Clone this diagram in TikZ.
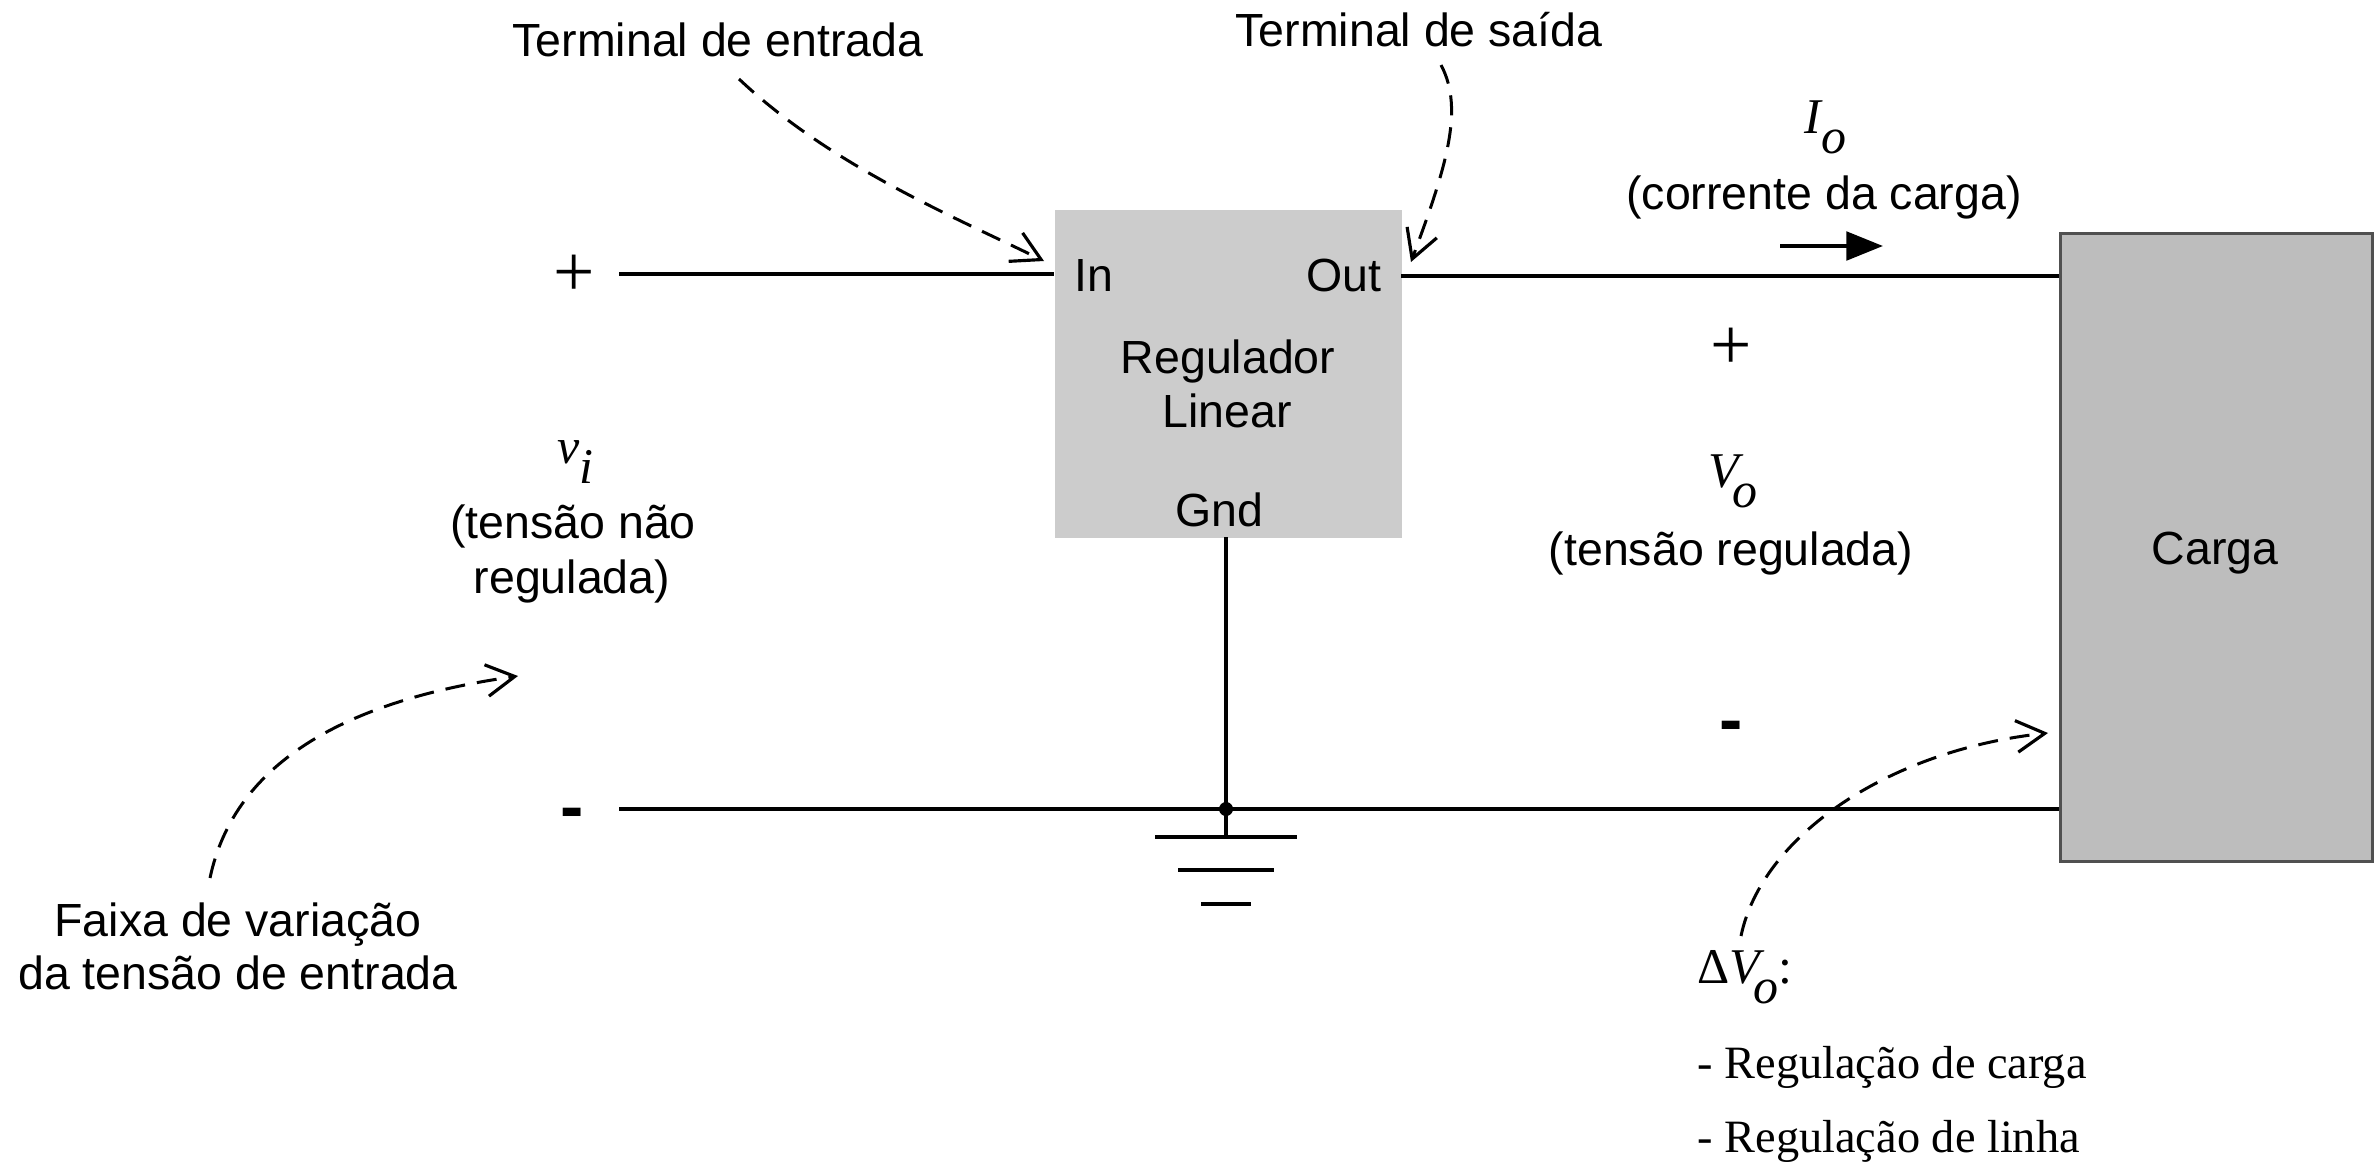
\documentclass[tikz,border=0pt]{standalone}
\usepackage{fontspec}
\setmainfont{Liberation Sans}
\newfontfamily\serifA{Liberation Serif}
\usetikzlibrary{arrows.meta}
\newcommand{\lowr}[1]{\raisebox{-6pt}{#1}}
\tikzset{
  lbl/.style={font=\fontsize{13.95}{15.9}\selectfont,inner sep=0pt,anchor=base,align=center},
  lblL/.style={lbl,anchor=base west},
  mathlbl/.style={font=\fontsize{15}{16}\selectfont\serifA,inner sep=0pt,anchor=base west},
  textlbl/.style={font=\fontsize{13.9}{16}\selectfont\serifA,inner sep=0pt,anchor=base west},
  plusmark/.style={font=\fontsize{22}{22}\selectfont\serifA,inner sep=0pt,anchor=center},
  minusmark/.style={font=\fontsize{21}{21}\selectfont\bfseries,inner sep=0pt,anchor=center},
  wire/.style={line width=1.3pt,black},
  thinwire/.style={line width=0.95pt,black},
  gbar/.style={line width=1.25pt,black},
  callout/.style={line width=0.9pt,black,dash pattern=on 6pt off 3.6pt,-{Straight Barb[length=8.5pt,width=9.5pt,line width=0.95pt]}},
  regbox/.style={fill=boxgray,draw=none,inner sep=0pt,minimum width=104.1pt,minimum height=98.6pt,anchor=north west},
  loadbox/.style={fill=loadgray,draw=edgegray,line width=0.9pt,inner sep=0pt,minimum width=93.5pt,minimum height=188.5pt,anchor=north west},
}
\definecolor{boxgray}{HTML}{CCCCCC}
\definecolor{loadgray}{HTML}{BDBDBD}
\definecolor{edgegray}{HTML}{505050}
\begin{document}
\begin{tikzpicture}[x=0.3pt,y=-0.3pt]
\useasboundingbox (0,0) rectangle (2380,1164);
% boxes
\node[regbox] (reg) at (1054,209) {};
\node[loadbox] (load) at (2059,232) {};
% wire end points
\coordinate (inL) at (619,274);
\coordinate (outS) at (1401,276);
\coordinate (gndL) at (619,809);
\coordinate (tap) at (1226,809);
\coordinate (gndTop) at (1226,537);
\coordinate (g1) at (1226,837);
% wires
\draw[wire] (inL) -- (inL -| reg.west);
\draw[wire] (outS) -- (outS -| load.west);
\draw[wire] (gndL) -- (gndL -| load.west);
\draw[thinwire] (gndTop) -- (g1);
\fill[black] (tap) circle (7);
% ground
\coordinate (g1a) at (1155,837); \coordinate (g1b) at (1297,837);
\coordinate (g2a) at (1178,870); \coordinate (g2b) at (1274,870);
\coordinate (g3a) at (1201,904); \coordinate (g3b) at (1251,904);
\draw[gbar] (g1a) -- (g1b);
\draw[gbar] (g2a) -- (g2b);
\draw[gbar] (g3a) -- (g3b);
% current arrow
\coordinate (ia) at (1780,246); \coordinate (ib) at (1883,246);
\draw[wire,-{Stealth[length=11pt,width=8.5pt,inset=0pt]}] (ia) -- (ib);
% labels
\node[lbl] (tin) at (718,56) {Terminal de entrada};
\node[lbl] (tout) at (1419,46) {Terminal de saída};
\node[lblL] (lin) at (1074,291) {In};
\node[lbl] (lout) at (1344,291) {Out};
\node[lbl] (lreg1) at (1228,373) {Regulador};
\node[lbl] (lreg2) at (1227,427) {Linear};
\node[lbl] (lgnd) at (1219,526) {Gnd};
\node[lbl] (lcar) at (2215,564) {Carga};
\node[lbl] (lcor) at (1824,209) {(corrente da carga)};
\node[lbl] (lreg) at (1731,565) {(tensão regulada)};
\node[lbl] (ltn1) at (573,538) {(tensão não};
\node[lbl] (ltn2) at (572,593) {regulada)};
\node[lbl] (lfx1) at (238,936) {Faixa de variação};
\node[lbl] (lfx2) at (238,989) {da tensão de entrada};
\node[mathlbl] (vi) at (557,463) {\textit{v\lowr{i}}};
\node[mathlbl] (io) at (1804,133) {\textit{I\lowr{o}}};
\node[mathlbl] (vo) at (1708,487) {\textit{V\kern-2pt\lowr{o}}};
\node[mathlbl] (dv) at (1697,983) {Δ\textit{V\kern-2pt\lowr{o}}:};
\node[textlbl] (r1) at (1697,1078) {- Regulação de carga};
\node[textlbl] (r2) at (1697,1152) {- Regulação de linha};
\node[plusmark] (pl) at (574,276) {+};
\node[plusmark] (pr) at (1731,349) {+};
\node[minusmark] (ml) at (572,819) {-};
\node[minusmark] (mr) at (1731,732) {-};
% callouts
\coordinate (c1s) at (739,79);  \coordinate (c1e) at (1044,261);
\coordinate (c2s) at (1441,65); \coordinate (c2e) at (1411,262);
\coordinate (c3s) at (210,878); \coordinate (c3e) at (518,676);
\coordinate (c4s) at (1741,936);\coordinate (c4e) at (2048,733);
\draw[callout] (c1s) .. controls (830,165) and (950,215) .. (c1e);
\draw[callout] (c2s) .. controls (1465,110) and (1445,170) .. (c2e);
\draw[callout] (c3s) .. controls (235,760) and (350,700) .. (c3e);
\draw[callout] (c4s) .. controls (1762,835) and (1890,750) .. (c4e);
\end{tikzpicture}
\end{document}
